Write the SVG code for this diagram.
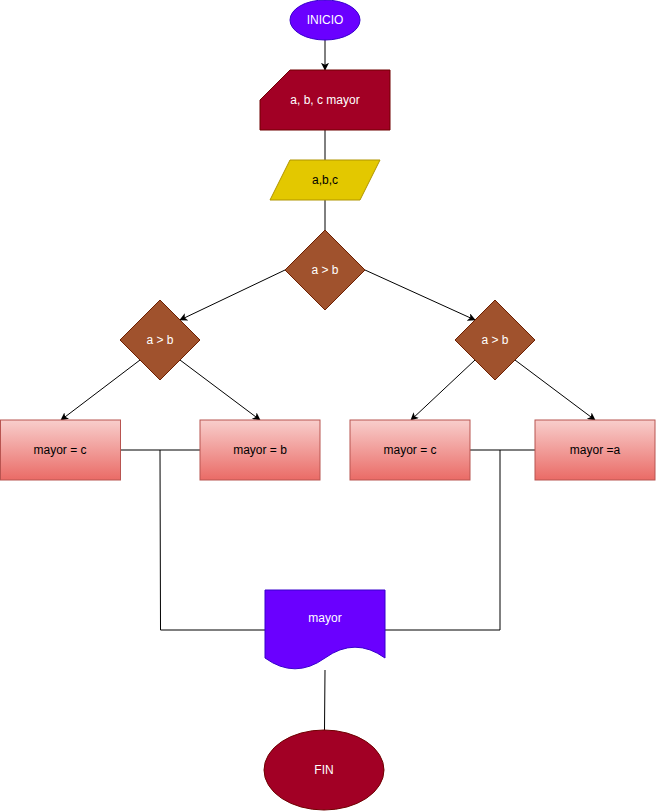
<svg xmlns="http://www.w3.org/2000/svg" width="656" height="811" viewBox="0 0 656 811">
  <defs>
    <linearGradient id="boxGrad" x1="0" y1="0" x2="0" y2="1">
      <stop offset="0" stop-color="#f8cecc"/>
      <stop offset="1" stop-color="#ea6b66"/>
    </linearGradient>
    <marker id="arrow" viewBox="0 0 10 10" refX="9" refY="5" markerWidth="8" markerHeight="8" markerUnits="userSpaceOnUse" orient="auto">
      <path d="M0,0 L10,5 L0,10 L2.5,5 Z" fill="#000"/>
    </marker>
    <style>
      .lbl { font-family: "Liberation Sans", Arial, sans-serif; font-size: 12px; text-anchor: middle; dominant-baseline: central; }
      .w { fill: #ffffff; }
      .k { fill: #000000; }
      .edge { fill: none; stroke: #000; stroke-width: 1; }
      .dec { fill: #a0522d; stroke: #6d1f00; }
      .box { fill: url(#boxGrad); stroke: #b85450; }
    </style>
  </defs>

  <!-- connectors -->
  <g id="edges">
    <path class="edge" d="M325,40 V70" marker-end="url(#arrow)"/>
    <path class="edge" d="M325,130 V160"/>
    <path class="edge" d="M325,200 V230"/>
    <path class="edge" d="M285,270 L180,320" marker-end="url(#arrow)"/>
    <path class="edge" d="M365,270 L475,320" marker-end="url(#arrow)"/>
    <path class="edge" d="M140,360 L61,420" marker-end="url(#arrow)"/>
    <path class="edge" d="M180,360 L260,420" marker-end="url(#arrow)"/>
    <path class="edge" d="M475,360 L411,420" marker-end="url(#arrow)"/>
    <path class="edge" d="M515,360 L595,420" marker-end="url(#arrow)"/>
    <path class="edge" d="M120,450 H200"/>
    <path class="edge" d="M160,450 L160.5,630 H265"/>
    <path class="edge" d="M470,450 H535"/>
    <path class="edge" d="M500,450 V630 H385"/>
    <path class="edge" d="M325,670 L324.5,730"/>
  </g>

  <g id="inicio">
    <ellipse cx="325" cy="20" rx="35" ry="20" fill="#6a00ff" stroke="#3700cc"/>
    <text class="lbl w" x="325" y="20">INICIO</text>
  </g>

  <g id="vars">
    <path d="M290,70 H390 V130 H260 V100 Z" fill="#a20025" stroke="#6f0000"/>
    <text class="lbl w" x="325" y="100">a, b, c mayor</text>
  </g>

  <g id="entrada">
    <path d="M290,160 H380 L360,200 H270 Z" fill="#e3c800" stroke="#b09500"/>
    <text class="lbl k" x="325" y="180">a,b,c</text>
  </g>

  <g id="dec1">
    <path class="dec" d="M325,230 L365,270 L325,310 L285,270 Z"/>
    <text class="lbl w" x="325" y="270">a &gt; b</text>
  </g>

  <g id="dec2">
    <path class="dec" d="M160,300 L200,340 L160,380 L120,340 Z"/>
    <text class="lbl w" x="160" y="340">a &gt; b</text>
  </g>

  <g id="dec3">
    <path class="dec" d="M495,300 L535,340 L495,380 L455,340 Z"/>
    <text class="lbl w" x="495" y="340">a &gt; b</text>
  </g>

  <g id="box1">
    <rect class="box" x="0.5" y="420" width="120" height="60"/>
    <text class="lbl k" x="60" y="450">mayor = c</text>
  </g>

  <g id="box2">
    <rect class="box" x="200" y="420" width="120" height="60"/>
    <text class="lbl k" x="260" y="450">mayor = b</text>
  </g>

  <g id="box3">
    <rect class="box" x="350" y="420" width="120" height="60"/>
    <text class="lbl k" x="410" y="450">mayor = c</text>
  </g>

  <g id="box4">
    <rect class="box" x="535" y="420" width="120" height="60"/>
    <text class="lbl k" x="595" y="450">mayor =a</text>
  </g>

  <g id="salida">
    <path d="M265,590 H385 V658 Q355,636.4 325,658 Q295,679.6 265,658 Z" fill="#6a00ff" stroke="#3700cc"/>
    <text class="lbl w" x="325" y="618">mayor</text>
  </g>

  <g id="fin">
    <ellipse cx="324" cy="770" rx="60" ry="40" fill="#a20025" stroke="#6f0000"/>
    <text class="lbl w" x="324" y="770">FIN</text>
  </g>
</svg>
